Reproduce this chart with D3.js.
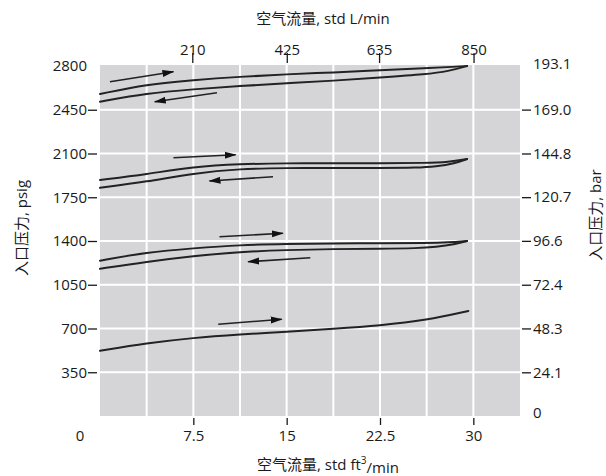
<!DOCTYPE html>
<html>
<head>
<meta charset="utf-8">
<script src="https://cdn.jsdelivr.net/npm/d3@7"></script>
<style>
  html, body { margin: 0; padding: 0; background: #fff; }
  svg { display: block; }
  text { font-family: "Open Sans", "Noto Sans CJK SC", sans-serif; fill: #1a1a1a; }
</style>
</head>
<body>
<svg id="chart" width="606" height="476"></svg>
<script>
// ---- Tick labels ----
const flowTicks = [7.5, 15, 22.5, 30];                 // std ft3/min (bottom)
const lpmTicks = [210, 425, 635, 850];                  // std L/min (top)
const psigTicks = [350, 700, 1050, 1400, 1750, 2100, 2450];
const barTicks = [24.1, 48.3, 72.4, 96.6, 120.7, 144.8, 169.0];
const gridFlow = [3.75, 7.5, 11.25, 15, 18.75, 22.5, 26.25, 30];

// ---- Series (flow ft3/min, inlet pressure psig) ----
const c1UpFlow = [0, 3.75, 7.5, 11.25, 15, 18.75, 22.5, 26.25, 28.5, 29.5];
const c1UpPsig = [2576, 2654, 2688, 2714, 2734, 2748, 2766, 2782, 2794, 2800];
const c1DnFlow = [0, 3.75, 7.5, 11.25, 15, 18.75, 22.5, 26.25, 28, 29.5];
const c1DnPsig = [2514, 2582, 2614, 2640, 2662, 2682, 2708, 2734, 2758, 2800];

const c2UpFlow = [0, 3.75, 7.5, 11.25, 15, 18.75, 22.5, 26.25, 28, 29.5];
const c2UpPsig = [1888, 1934, 1994, 2016, 2022, 2022, 2022, 2024, 2032, 2056];
const c2DnFlow = [0, 3.75, 7.5, 11.25, 15, 18.75, 22.5, 25.5, 27, 28.5, 29.5];
const c2DnPsig = [1826, 1874, 1942, 1978, 1984, 1984, 1984, 1986, 1996, 2020, 2056];

const c3UpFlow = [0, 3.75, 7.5, 11.25, 15, 18.75, 22.5, 26.25, 28, 29.5];
const c3UpPsig = [1242, 1310, 1342, 1368, 1376, 1380, 1382, 1384, 1388, 1400];
const c3DnFlow = [0, 3.75, 7.5, 11.25, 15, 18.75, 22.5, 25.5, 27, 28.5, 29.5];
const c3DnPsig = [1178, 1234, 1280, 1314, 1328, 1336, 1338, 1342, 1352, 1372, 1400];

const c4Flow = [0, 3.75, 7.5, 11.25, 15, 18.75, 22.5, 26.25, 29.6];
const c4Psig = [522, 582, 626, 652, 674, 698, 724, 766, 840];

// ---- Arrows: [flowFrom, psigFrom, flowTo, psigTo] ----
const arrowFlowFrom = [0.8, 9.4, 5.9, 13.9, 9.6, 16.9, 9.5];
const arrowPsigFrom = [2674, 2586, 2066, 1914, 1434, 1266, 734];
const arrowFlowTo   = [5.9, 4.4, 10.9, 8.8, 14.7, 11.9, 14.6];
const arrowPsigTo   = [2754, 2514, 2090, 1880, 1462, 1234, 774];

const svg = d3.select("#chart");
const L = 100, R = 520, T = 65, B = 416;

const x = d3.scaleLinear().domain([0, 33.75]).range([L, R]);
const xL = d3.scaleLinear().domain([0, 33.75 * 28.3168]).range([L, R]);
const y = d3.scaleLinear().domain([0, 2800]).range([B, T + 1]);
const yBar = d3.scaleLinear().domain([0, 2800 * 0.0689476]).range([B, T + 1]);

// background
svg.append("rect").attr("x", L).attr("y", T).attr("width", R - L).attr("height", B - T)
  .attr("fill", "#d5d5d7");

// grid
svg.append("g").selectAll("line").data(gridFlow).join("line")
  .attr("x1", d => x(d)).attr("x2", d => x(d)).attr("y1", T).attr("y2", B)
  .attr("stroke", "#fff").attr("stroke-width", 2);
svg.append("g").selectAll("line").data(psigTicks).join("line")
  .attr("x1", L).attr("x2", R).attr("y1", d => y(d)).attr("y2", d => y(d))
  .attr("stroke", "#fff").attr("stroke-width", 2);

// axes
function styleAxis(g) {
  g.select(".domain").remove();
  g.selectAll(".tick line").attr("stroke", "#1a1a1a").attr("stroke-width", 1.3);
  g.selectAll(".tick text").attr("font-size", 15).attr("fill", "#1a1a1a")
    .style("font-family", '"Open Sans", sans-serif');
}
svg.append("g").attr("transform", `translate(97,0)`)
  .call(d3.axisLeft(y).tickValues(psigTicks).tickFormat(d3.format("d")).tickSize(9).tickPadding(1))
  .call(styleAxis);
svg.append("g").attr("transform", `translate(522,0)`)
  .call(d3.axisRight(yBar).tickValues(barTicks).tickFormat(d3.format(".1f")).tickSize(9).tickPadding(2))
  .call(styleAxis);
svg.append("g").attr("transform", `translate(0,418)`)
  .call(d3.axisBottom(x).tickValues(flowTicks).tickFormat(d => String(d)).tickSize(7).tickPadding(5))
  .call(styleAxis);
svg.append("g").attr("transform", `translate(0,63)`)
  .call(d3.axisTop(xL).tickValues(lpmTicks).tickFormat(d3.format("d")).tickSize(10).tickPadding(-2))
  .call(styleAxis);

// corner labels
const corner = svg.append("g").attr("font-size", 15);
corner.append("text").attr("x", 87).attr("y", y(2800)).attr("dy", "0.35em").attr("text-anchor", "end").text("2800");
corner.append("text").attr("x", 80).attr("y", 436).attr("dy", "0.35em").attr("text-anchor", "middle").text("0");
corner.append("text").attr("x", 533).attr("y", yBar(193.05) - 2).attr("dy", "0.35em").text("193.1");
corner.append("text").attr("x", 533).attr("y", yBar(0) - 3).attr("dy", "0.35em").text("0");

// titles
const titles = svg.append("g").attr("font-size", 15);
titles.append("text").attr("x", 323).attr("y", 19).attr("dy", "0.35em").attr("text-anchor", "middle")
  .text("空气流量, std L/min");
const bt = titles.append("text").attr("x", 328).attr("y", 465).attr("dy", "0.35em").attr("text-anchor", "middle");
bt.append("tspan").text("空气流量, std ft");
bt.append("tspan").attr("font-size", 10).attr("dy", "-0.6em").text("3");
bt.append("tspan").attr("dy", "0.6em").text("/min");
titles.append("text").attr("transform", "translate(22,228) rotate(-90)").attr("dy", "0.35em")
  .attr("text-anchor", "middle").text("入口压力, psig");
titles.append("text").attr("transform", "translate(596,215) rotate(-90)").attr("dy", "0.35em")
  .attr("text-anchor", "middle").text("入口压力, bar");

// curves
const line = d3.line().x(d => x(d[0])).y(d => y(d[1])).curve(d3.curveBasis);
const series = [
  d3.zip(c1UpFlow, c1UpPsig), d3.zip(c1DnFlow, c1DnPsig),
  d3.zip(c2UpFlow, c2UpPsig), d3.zip(c2DnFlow, c2DnPsig),
  d3.zip(c3UpFlow, c3UpPsig), d3.zip(c3DnFlow, c3DnPsig),
  d3.zip(c4Flow, c4Psig)
];
svg.append("g").selectAll("path").data(series).join("path")
  .attr("d", line).attr("fill", "none").attr("stroke", "#222").attr("stroke-width", 2)
  .attr("stroke-linecap", "round");

// arrows
svg.append("defs").append("marker").attr("id", "ah")
  .attr("markerUnits", "userSpaceOnUse").attr("markerWidth", 12).attr("markerHeight", 8)
  .attr("refX", 11).attr("refY", 4).attr("orient", "auto")
  .append("path").attr("d", "M0,0.5 L12,4 L0,7.5 Z").attr("fill", "#111");
const arrows = d3.range(arrowFlowFrom.length);
svg.append("g").selectAll("line").data(arrows).join("line")
  .attr("x1", i => x(arrowFlowFrom[i])).attr("y1", i => y(arrowPsigFrom[i]))
  .attr("x2", i => x(arrowFlowTo[i])).attr("y2", i => y(arrowPsigTo[i]))
  .attr("stroke", "#222").attr("stroke-width", 1.6).attr("marker-end", "url(#ah)");
</script>
</body>
</html>
